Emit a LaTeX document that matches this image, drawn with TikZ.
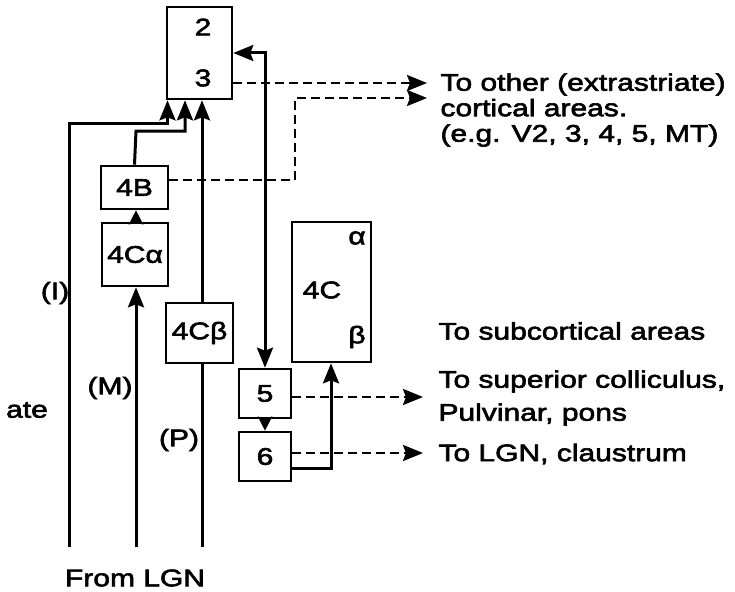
\documentclass[tikz,border=0pt]{standalone}
\usepackage{fontspec}
\setmainfont{Liberation Sans}[FakeStretch=1.25,FakeBold=2.5]
\usetikzlibrary{arrows.meta,calc}
\begin{document}
\begin{tikzpicture}[x=1pt,y=-1pt,line width=3pt,
  txt/.style={font=\fontsize{24}{26}\selectfont,inner sep=0pt},
  box/.style={draw,line width=2.6pt,inner sep=0pt,txt},
  arr/.style={-{Stealth[length=20pt,width=16pt,inset=3pt]}},
  sarr/.style={-{Stealth[length=14pt,width=14pt,inset=2pt]}},
  biarr/.style={{Stealth[length=20pt,width=16pt,inset=3pt]}-{Stealth[length=20pt,width=16pt,inset=3pt]}},
  dsh/.style={dash pattern=on 9pt off 5pt,line width=2.6pt}]
\useasboundingbox (0,0) rectangle (735,591);
% boxes
\node[box,minimum width=65pt,minimum height=92pt] (b23) at (199.5,53) {};
\node[txt] (l2) at (203,27) {2};
\node[txt] (l3) at (203,78) {3};
\node[box,minimum width=67pt,minimum height=43pt] (b4B) at (134.5,187.5) {4B};
\node[box,minimum width=66pt,minimum height=63pt] (b4Ca) at (135,254.5) {4Cα};
\node[box,minimum width=67pt,minimum height=60pt] (b4Cb) at (199.5,333) {4Cβ};
\node[box,minimum width=79pt,minimum height=140pt] (b4C) at (331.5,292) {};
\node[txt] (la) at (357,238) {α};
\node[txt] (l4C) at (322,290) {4C};
\node[txt] (lb) at (357,337) {β};
\node[box,minimum width=52pt,minimum height=49pt] (b5) at (265,393.5) {5};
\node[box,minimum width=52pt,minimum height=49pt] (b6) at (265,456.5) {6};
% free ends
\coordinate (Ibot) at (69,547);
\coordinate (Mbot) at (136,547);
\coordinate (Pbot) at (202,547);
\coordinate (t1) at (427,83);
\coordinate (t2) at (427,98);
\coordinate (t5) at (423,397);
\coordinate (t6) at (423,453);
% solid connectors
\draw[arr] (Ibot) -- (69,123) -- (167.5,123) -- (b23.south -| 167.5,0);
\draw[arr] (b4B.north) -- (136,131) -- (185,131) -- (b23.south -| 185,0);
\draw[sarr] (b4Ca.north -| 136,0) -- (b4B.south -| 136,0);
\draw[arr] (Mbot) -- (b4Ca.south -| 136,0);
\draw (Pbot) -- (b4Cb.south -| 202,0);
\draw[arr] (b4Cb.north -| 202,0) -- (b23.south -| 202,0);
\draw[biarr] (b23.east |- 0,53) -| (b5.north);
\draw[sarr] (b5.south) -- (b6.north);
\draw[arr] (b6.east |- 0,468) -| (b4C.south -| 331,0);
% dashed connectors
\draw[dsh,arr] (b23.east |- 0,83) -- (t1);
\draw[dsh,arr] (b4B.east |- 0,180) -| (295,98) -- (t2);
\draw[dsh,arr] (b5.east |- 0,397) -- (t5);
\draw[dsh,arr] (b6.east |- 0,453) -- (t6);
% labels
\node[txt,anchor=west,align=left,font=\fontsize{24}{25.5}\selectfont] (o1) at (439,110) {To other (extrastriate)\\cortical areas.\\(e.g. V2, 3, 4, 5, MT)};
\node[txt,anchor=west] (o2) at (437,331) {To subcortical areas};
\node[txt,anchor=west,align=left,font=\fontsize{24}{33}\selectfont] (o3) at (437,398) {To superior colliculus,\\Pulvinar, pons};
\node[txt,anchor=west] (o4) at (437,454) {To LGN, claustrum};
\node[txt] (from) at (135,578) {From LGN};
\node[txt] (lI) at (55,293) {(I)};
\node[txt] (lM) at (110,388) {(M)};
\node[txt] (lP) at (179,440) {(P)};
\node[txt] (late) at (27,410) {ate};
\end{tikzpicture}
\end{document}
